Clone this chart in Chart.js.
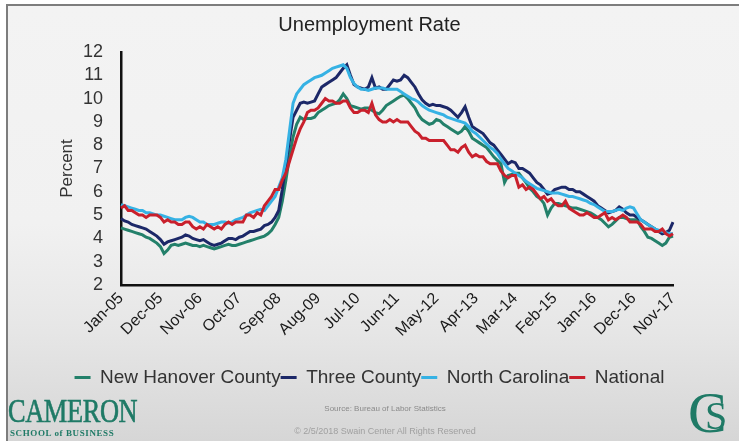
<!DOCTYPE html>
<html lang="en">
<head>
  <meta charset="UTF-8">
  <title>Unemployment Rate</title>
  <script src="https://cdn.jsdelivr.net/npm/chart.js@4"></script>
  <style>
    html, body { margin: 0; padding: 0; }
    body {
      width: 739px; height: 441px; overflow: hidden; position: relative;
      background: #fff; font-family: "Liberation Sans", Arial, sans-serif;
    }
    .moldura {
      position: absolute; left: 6px; top: 4px; right: 0; bottom: 0;
      border-top: 2px solid #7d7d7d; border-left: 2px solid #7d7d7d;
      background: linear-gradient(to bottom, #f3f3f3 0%, #f1f1f1 50%, #e6e6e6 75%, #d6d6d6 100%);
    }
    #grafico { position: absolute; left: 0; top: 0; }
    .cameron {
      position: absolute; left: 8px; top: 393px; color: #1f7a66;
      font-family: "Liberation Serif", "DejaVu Serif", serif; font-size: 33px;
      transform: scaleX(0.8); transform-origin: left top; letter-spacing: -0.5px;
      -webkit-text-stroke: 0.6px #1f7a66;
    }
    .escola {
      position: absolute; left: 10px; top: 428px; color: #1f7a66;
      font-family: "Liberation Serif", serif; font-size: 9px; font-weight: bold;
      letter-spacing: 0.6px;
    }
    .fonte, .direitos {
      position: absolute; left: 285px; width: 200px; text-align: center;
      color: #8a8a8a; font-size: 8px;
    }
    .fonte { top: 404px; }
    .direitos { top: 426px; color: #a0a0a0; font-size: 9px; }
    .logoC {
      position: absolute; left: 688px; top: 384px; color: #1f7a66;
      font-family: "Liberation Serif", serif; font-size: 58px; line-height: 58px;
    }
    .logoS {
      position: absolute; left: 705px; top: 396px; color: #1f7a66;
      font-family: "Liberation Serif", serif; font-size: 40px; line-height: 40px;
    }
  </style>
</head>
<body>
  <div class="moldura"></div>
  <canvas id="grafico" width="739" height="441"></canvas>
  <div class="cameron">CAMERON</div>
  <div class="escola">SCHOOL of BUSINESS</div>
  <div class="fonte">Source: Bureau of Labor Statistics</div>
  <div class="direitos">© 2/5/2018 Swain Center All Rights Reserved</div>
  <div class="logoC">C</div>
  <div class="logoS">S</div>

<script>
  // meses de Jan-05 ate Nov-17
  const nomesMeses = ['Jan', 'Feb', 'Mar', 'Apr', 'May', 'Jun', 'Jul', 'Aug', 'Sep', 'Oct', 'Nov', 'Dec'];
  const meses = [];
  for (let ano = 5; ano <= 17; ano++) {
    for (let m = 0; m < 12; m++) {
      if (ano === 17 && m === 11) break;
      meses.push(nomesMeses[m] + '-' + String(ano).padStart(2, '0'));
    }
  }

  // rotulos que aparecem no eixo x
  const rotulosEixoX = ['Jan-05', 'Dec-05', 'Nov-06', 'Oct-07', 'Sep-08', 'Aug-09', 'Jul-10',
    'Jun-11', 'May-12', 'Apr-13', 'Mar-14', 'Feb-15', 'Jan-16', 'Dec-16', 'Nov-17'];

  const newHanover = [
    4.45, 4.4, 4.35, 4.3, 4.25, 4.2, 4.15, 4.05, 4.0, 3.9, 3.8, 3.65,
    3.35, 3.5, 3.7, 3.75, 3.7, 3.75, 3.8, 3.75, 3.7, 3.7, 3.65, 3.7,
    3.65, 3.6, 3.55, 3.6, 3.65, 3.7, 3.75, 3.7, 3.7, 3.75, 3.8, 3.85,
    3.9, 3.95, 4.0, 4.05, 4.1, 4.2, 4.35, 4.6, 4.9, 5.6, 6.5, 7.5,
    8.35, 8.9, 9.2, 9.1, 9.15, 9.15, 9.2, 9.4, 9.5, 9.6, 9.7, 9.75,
    9.8, 9.95, 10.2, 10.0, 9.7, 9.65, 9.6, 9.55, 9.6, 9.6, 9.5, 9.4,
    9.35, 9.5, 9.7, 9.8, 9.9, 10.0, 10.1, 10.15, 10.0, 9.8, 9.6, 9.3,
    9.1, 9.0, 8.9, 8.95, 9.1, 9.05, 8.9, 8.8, 8.7, 8.6, 8.5, 8.6,
    8.8, 8.6, 8.3, 8.2, 8.1, 8.0, 7.9, 7.7, 7.5, 7.35, 7.2, 6.4,
    6.7, 6.75, 6.8, 6.8, 6.6, 6.4, 6.15, 6.0, 5.8, 5.7, 5.5, 5.0,
    5.3, 5.5, 5.5, 5.45, 5.4, 5.35, 5.3, 5.3, 5.25, 5.2, 5.15, 5.1,
    5.0, 4.9, 4.8, 4.65, 4.5, 4.6, 4.75, 4.9, 4.9, 4.85, 4.8, 4.8,
    4.8, 4.5, 4.3, 4.05, 4.0, 3.9, 3.8, 3.7, 3.8, 4.05, 4.1
  ];

  const threeCounty = [
    4.85, 4.75, 4.7, 4.6, 4.55, 4.5, 4.45, 4.4, 4.3, 4.2, 4.1, 3.95,
    3.75, 3.85, 3.9, 3.95, 4.0, 4.05, 4.15, 4.1, 4.0, 3.95, 3.9, 3.95,
    3.85, 3.75, 3.7, 3.75, 3.8, 3.9, 4.0, 4.0, 3.95, 4.05, 4.1, 4.2,
    4.3, 4.3, 4.35, 4.4, 4.55, 4.6, 4.7, 4.9, 5.2, 6.1, 7.2, 8.2,
    9.2, 9.5, 9.8, 9.85, 9.8, 9.85, 9.9, 10.2, 10.5, 10.6, 10.7, 10.8,
    10.9, 11.1, 11.3, 11.45, 11.0, 10.6, 10.5, 10.45, 10.4, 10.5, 10.9, 10.45,
    10.5, 10.4, 10.4, 10.6, 10.8, 10.75, 10.8, 11.0, 10.9, 10.7, 10.5, 10.2,
    9.95, 9.8, 9.7, 9.75, 9.7, 9.7, 9.65, 9.6, 9.5, 9.35, 9.2, 9.4,
    9.65, 9.2, 8.8, 8.7, 8.6, 8.5, 8.3, 8.1, 8.0, 7.8, 7.6, 7.4,
    7.2, 7.3, 7.25, 7.0, 7.0, 6.9, 6.8, 6.6, 6.4, 6.3, 6.1, 5.9,
    5.95, 6.1, 6.15, 6.2, 6.2, 6.1, 6.1, 6.0, 6.0, 5.9, 5.8, 5.7,
    5.6, 5.4, 5.3, 5.2, 5.1, 5.15, 5.2, 5.35, 5.25, 5.1, 5.0, 5.0,
    4.9, 4.8, 4.7, 4.6, 4.5, 4.4, 4.3, 4.2, 4.25, 4.35, 4.7
  ];

  const northCarolina = [
    5.45, 5.4, 5.35, 5.3, 5.25, 5.2, 5.2, 5.1, 5.1, 5.05, 5.0, 5.0,
    4.95, 4.9, 4.85, 4.8, 4.8, 4.8, 4.9, 4.95, 4.9, 4.8, 4.7, 4.7,
    4.6, 4.6, 4.6, 4.65, 4.7, 4.7, 4.65, 4.7, 4.8, 4.85, 4.9, 5.0,
    5.1, 5.15, 5.2, 5.25, 5.2, 5.4, 5.6, 5.8, 6.2, 6.6, 7.4, 8.6,
    9.8, 10.2, 10.4, 10.6, 10.7, 10.8, 10.9, 10.95, 11.0, 11.1, 11.2, 11.3,
    11.35, 11.4, 11.45, 11.3, 10.9, 10.65, 10.5, 10.4, 10.4, 10.35, 10.4, 10.45,
    10.45, 10.45, 10.4, 10.4, 10.4, 10.4, 10.3, 10.2, 10.1, 10.0, 9.95, 9.85,
    9.7, 9.6, 9.5, 9.45, 9.4, 9.35, 9.3, 9.2, 9.15, 9.1, 9.05, 9.0,
    8.95, 8.8, 8.6, 8.5, 8.35, 8.2, 8.05, 7.9, 7.8, 7.65, 7.4, 7.2,
    7.0, 6.9, 6.8, 6.7, 6.6, 6.45, 6.35, 6.25, 6.15, 6.1, 6.05, 6.0,
    5.95, 5.95, 5.95, 5.9, 5.85, 5.8, 5.8, 5.75, 5.7, 5.65, 5.6, 5.5,
    5.45, 5.35, 5.25, 5.15, 5.15, 5.15, 5.2, 5.25, 5.2, 5.3, 5.35, 5.3,
    5.05, 4.8, 4.7, 4.6, 4.5, 4.4, 4.35, 4.3, 4.25, 4.2, 4.2
  ];

  const national = [
    5.3, 5.4, 5.2, 5.2, 5.1, 5.0, 5.0, 4.9, 5.0, 5.0, 5.0, 4.9,
    4.7, 4.8, 4.7, 4.7, 4.6, 4.6, 4.7, 4.7, 4.5, 4.4, 4.5, 4.4,
    4.6, 4.5, 4.4, 4.5, 4.4, 4.6, 4.7, 4.6, 4.7, 4.7, 4.7, 5.0,
    5.0, 4.9, 5.1, 5.0, 5.4, 5.6, 5.8, 6.1, 6.1, 6.5, 6.8, 7.3,
    7.8, 8.3, 8.7, 9.0, 9.4, 9.5, 9.5, 9.6, 9.8, 10.0, 9.9, 9.9,
    9.8, 9.8, 9.9, 9.9, 9.6, 9.4, 9.4, 9.5, 9.5, 9.4, 9.8, 9.3,
    9.1, 9.0, 9.0, 9.1, 9.0, 9.1, 9.0, 9.0, 9.0, 8.8, 8.6, 8.5,
    8.3, 8.3, 8.2, 8.2, 8.2, 8.2, 8.2, 8.0, 7.8, 7.8, 7.7, 7.9,
    8.0, 7.7, 7.5, 7.6, 7.5, 7.5, 7.3, 7.2, 7.2, 7.2, 6.9, 6.7,
    6.6, 6.7, 6.7, 6.2, 6.3, 6.1, 6.2, 6.1, 5.9, 5.7, 5.8, 5.6,
    5.7, 5.5, 5.4, 5.4, 5.6, 5.3, 5.2, 5.1, 5.0, 5.0, 5.1, 5.0,
    4.9, 4.9, 5.0, 5.1, 4.8, 4.9, 4.8, 4.9, 5.0, 4.9, 4.7, 4.7,
    4.7, 4.6, 4.4, 4.4, 4.4, 4.3, 4.3, 4.4, 4.2, 4.1, 4.2
  ];

  function linha(label, data, cor, ordem) {
    return {
      label: label,
      data: data,
      borderColor: cor,
      backgroundColor: cor,
      borderWidth: 3,
      pointRadius: 0,
      tension: 0,
      order: ordem
    };
  }

  const ctx = document.getElementById('grafico');
  new Chart(ctx, {
    type: 'line',
    data: {
      labels: meses,
      datasets: [
        linha('New Hanover County', newHanover, '#23806a', 3),
        linha('Three County', threeCounty, '#1c2868', 2),
        linha('North Carolina', northCarolina, '#36b2e4', 1),
        linha('National', national, '#c9202c', 0)
      ]
    },
    options: {
      responsive: false,
      animation: false,
      layout: { padding: { top: 0, left: 0, right: 0, bottom: 44 } },
      plugins: {
        title: {
          display: true,
          text: 'Unemployment Rate',
          color: '#222',
          font: { family: 'Liberation Sans', size: 20, weight: 'normal' },
          padding: { top: 13, bottom: 15 }
        },
        legend: {
          position: 'bottom',
          labels: {
            usePointStyle: true,
            pointStyle: 'line',
            pointStyleWidth: 16,
            padding: 0,
            color: '#333',
            font: { family: 'Liberation Sans', size: 19 },
            // manter a ordem original dos datasets na legenda
            sort: (a, b) => a.datasetIndex - b.datasetIndex
          }
        },
        tooltip: { enabled: false }
      },
      scales: {
        x: {
          type: 'category',
          grid: { display: false, drawTicks: false },
          border: { display: true, color: '#111', width: 2.5 },
          ticks: {
            autoSkip: false,
            maxRotation: 45,
            minRotation: 45,
            padding: 4,
            color: '#1a1a1a',
            font: { family: 'Liberation Sans', size: 16 },
            callback: function (valor) {
              const rotulo = this.getLabelForValue(valor);
              return rotulosEixoX.includes(rotulo) ? rotulo : '';
            }
          },
          afterFit: function (escala) { escala.height = 83; }
        },
        y: {
          min: 2,
          max: 12,
          grid: { display: false, drawTicks: false },
          border: { display: true, color: '#111', width: 2.5 },
          ticks: {
            stepSize: 1,
            autoSkip: false,
            padding: 18,
            color: '#333',
            font: { family: 'Liberation Sans', size: 18 }
          },
          title: {
            display: true,
            text: 'Percent',
            color: '#333',
            font: { family: 'Liberation Sans', size: 17 },
            padding: { top: 57, bottom: 0 }
          },
          afterFit: function (escala) { escala.width = 121; }
        },
        // eixo vazio so para reservar a margem direita
        direita: {
          position: 'right',
          display: true,
          grid: { display: false, drawTicks: false },
          border: { display: false },
          ticks: { display: false },
          afterFit: function (escala) { escala.width = 66; }
        }
      }
    }
  });
</script>
</body>
</html>
